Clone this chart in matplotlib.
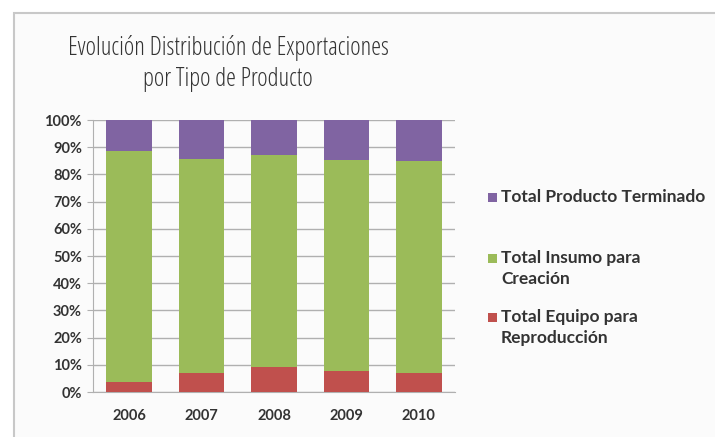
import matplotlib
matplotlib.use("Agg")
import matplotlib.pyplot as plt
from matplotlib.patches import Rectangle
import numpy as np

years = ["2006", "2007", "2008", "2009", "2010"]
equipo = [3.8, 7.1, 9.3, 7.7, 6.9]
insumo = [84.9, 78.7, 77.8, 77.6, 78.0]
terminado = [11.3, 14.2, 12.9, 14.7, 15.1]

c_equipo = "#C0504D"
c_insumo = "#9BBB59"
c_terminado = "#8064A2"

W, H = 715, 437
fig = plt.figure(figsize=(W / 100, H / 100), dpi=100)
fig.patch.set_facecolor("white")

# chart frame
fig.patches.append(Rectangle((14 / W, -0.05), 1.1, 1 - 13 / H + 0.05,
                             transform=fig.transFigure, facecolor="#fbfbfb",
                             edgecolor="#c8c8c8", linewidth=1.5, zorder=-5))

ax = fig.add_axes([93 / W, 1 - 392 / H, (455 - 93) / W, (392 - 120) / H], zorder=2)
ax.set_facecolor("none")

x = np.arange(len(years))
bw = 0.63
ax.bar(x, equipo, bw, color=c_equipo, zorder=3)
ax.bar(x, insumo, bw, bottom=equipo, color=c_insumo, zorder=3)
bottom2 = [a + b for a, b in zip(equipo, insumo)]
ax.bar(x, terminado, bw, bottom=bottom2, color=c_terminado, zorder=3)

ax.set_xlim(-0.5, len(years) - 0.5)
ax.set_ylim(0, 100)
ax.set_yticks(range(0, 101, 10))
ax.set_yticklabels([f"{v}%" for v in range(0, 101, 10)])
ax.set_xticks(x)
ax.set_xticklabels(years)
ax.yaxis.grid(True, color="#b0b0b0", linewidth=1, zorder=0)
ax.tick_params(axis="y", length=4, color="#b0b0b0", pad=4)
ax.tick_params(axis="x", length=0, pad=12)
for lbl in ax.get_xticklabels() + ax.get_yticklabels():
    lbl.set_fontfamily("Lato")
    lbl.set_fontweight("bold")
    lbl.set_fontsize(10.5)
    lbl.set_color("#333333")
for s in ["top", "right"]:
    ax.spines[s].set_visible(False)
ax.spines["left"].set_color("#b0b0b0")
ax.spines["bottom"].set_color("#b0b0b0")

for txt, ypx in [("Evolución Distribución de Exportaciones", 48),
                 ("por Tipo de Producto", 80)]:
    fig.text(228 / W, 1 - ypx / H, txt, ha="center", va="center", fontsize=18,
             fontfamily="Open Sans", fontstretch="condensed", color="#333333")

# legend
legend_items = [
    (c_terminado, "Total Producto Terminado", 197),
    (c_insumo, "Total Insumo para\nCreación", 258),
    (c_equipo, "Total Equipo para\nReproducción", 317),
]
for col, txt, ypx in legend_items:
    fig.patches.append(Rectangle((488 / W, 1 - (ypx + 5) / H), 9 / W, 9 / H,
                                 transform=fig.transFigure, facecolor=col,
                                 edgecolor="none"))
    fig.text(501 / W, 1 - (ypx - 8) / H, txt, ha="left", va="top",
             fontsize=12.5, fontfamily="Lato", fontweight="bold", color="#333333",
             linespacing=1.35)

fig.savefig("out.png", dpi=100)
